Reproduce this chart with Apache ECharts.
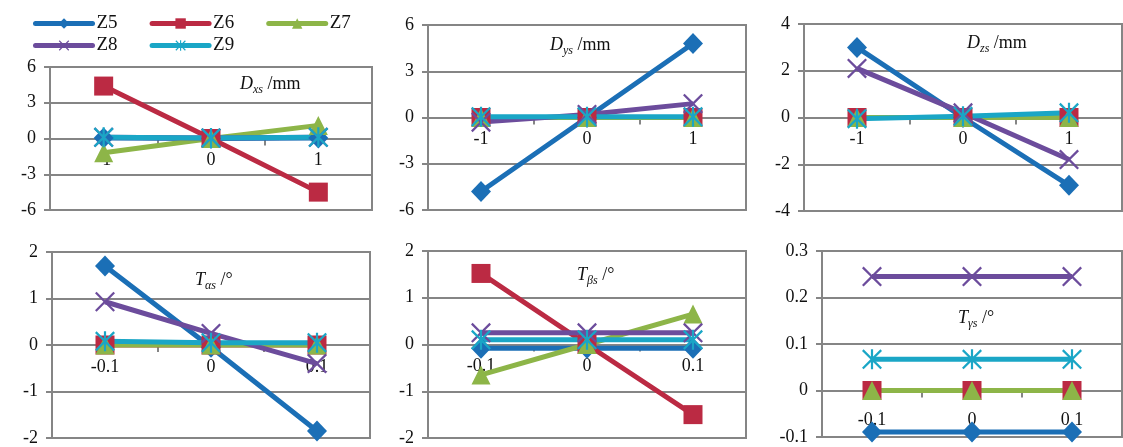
<!DOCTYPE html>
<html>
<head>
<meta charset="utf-8">
<script src="https://cdn.jsdelivr.net/npm/echarts@6/dist/echarts.min.js"></script>
<style>
html,body{margin:0;padding:0;background:#fff;}
#c{width:1123px;height:447px;}
</style>
</head>
<body>
<div id="c"></div>
<script>
// ---------- data ----------
const seriesNames = ['Z5', 'Z6', 'Z7', 'Z8', 'Z9'];
const catsD = ['-1', '0', '1'];
const catsT = ['-0.1', '0', '0.1'];
// each panel: values for Z5, Z6, Z7, Z8, Z9
const dxs = [[0.05, 0, 0.05], [4.4, 0, -4.5], [-1.2, 0, 1.1], [0.1, 0.05, 0.1], [0.1, 0.05, 0.1]];
const dys = [[-4.8, 0, 4.8], [0, 0, 0], [0, 0, 0], [-0.3, 0.2, 0.9], [0.05, 0.05, 0.05]];
const dzs = [[3.0, 0, -2.9], [0, 0, 0], [0, 0, 0], [2.1, 0.2, -1.8], [-0.05, 0.05, 0.2]];
const tas = [[1.7, -0.05, -1.85], [0, 0, 0], [0, 0, 0], [0.93, 0.25, -0.4], [0.08, 0.05, 0.05]];
const tbs = [[-0.08, -0.08, -0.08], [1.52, 0, -1.5], [-0.65, 0, 0.65], [0.25, 0.25, 0.25], [0.1, 0.1, 0.1]];
const tgs = [[-0.089, -0.089, -0.089], [0, 0, 0], [0, 0, 0], [0.245, 0.245, 0.245], [0.067, 0.067, 0.067]];
const yMin = [-6, -6, -4, -2, -2, -0.1];
const yMax = [6, 6, 4, 2, 2, 0.3];
const yStep = [3, 3, 2, 1, 1, 0.1];

// ---------- styles ----------
const colors = ['#1b6fb6', '#bb2a43', '#8db548', '#6c4c9c', '#1aa6c6'];
const xShape = 'M0,1.6 L1.6,0 L10,8.4 L18.4,0 L20,1.6 L11.6,10 L20,18.4 L18.4,20 L10,11.6 L1.6,20 L0,18.4 L8.4,10 Z';
const xPath = 'path://' + xShape;
const starPath = 'path://' + xShape + ' M8.9,0 L11.1,0 L11.1,20 L8.9,20 Z';
const symbols = ['diamond', 'rect', 'triangle', xPath, starPath];
const symbolSizes = [[20, 21], 19, 19, 20, 20];
const panels = [dxs, dys, dzs, tas, tbs, tgs];
const grids = [
  {left: 50, top: 67, width: 322, height: 143},
  {left: 428, top: 25, width: 318, height: 185},
  {left: 804, top: 24, width: 318, height: 187},
  {left: 52, top: 252, width: 318, height: 186},
  {left: 428, top: 251, width: 318, height: 187},
  {left: 822, top: 251, width: 300, height: 186}
];
const gray = '#858585';
const font = 'Liberation Serif';

const titleRich = {
  m: {fontFamily: font, fontStyle: 'italic', fontWeight: 'normal', fontSize: 18, color: '#111', lineHeight: 22, verticalAlign: 'bottom', padding: [0, 0, 3, 0]},
  s: {fontFamily: font, fontStyle: 'italic', fontWeight: 'normal', fontSize: 12, color: '#111', lineHeight: 22, verticalAlign: 'bottom'},
  n: {fontFamily: font, fontWeight: 'normal', fontSize: 18, color: '#111', lineHeight: 22, verticalAlign: 'bottom', padding: [0, 0, 3, 0]}
};
const titles = [
  {text: '{m|D}{s|xs}{n| /mm}', left: 240, top: 74},
  {text: '{m|D}{s|ys}{n| /mm}', left: 550, top: 35},
  {text: '{m|D}{s|zs}{n| /mm}', left: 967, top: 33},
  {text: '{m|T}{s|αs}{n| /°}', left: 195, top: 270},
  {text: '{m|T}{s|βs}{n| /°}', left: 577, top: 265},
  {text: '{m|T}{s|γs}{n| /°}', left: 958, top: 308}
];

const option = {
  animation: false,
  backgroundColor: '#fff',
  color: colors,
  title: titles.map(t => ({text: t.text, left: t.left, top: t.top, padding: 0, textStyle: {fontWeight: 'normal', rich: titleRich}})),
  legend: [
    {data: ['Z5', 'Z6', 'Z7'], left: 33, top: 14},
    {data: ['Z8', 'Z9'], left: 33, top: 36}
  ].map(l => Object.assign(l, {
    orient: 'horizontal', itemGap: 32, itemWidth: 57, itemHeight: 13, padding: 0,
    textStyle: {fontFamily: font, fontSize: 19, color: '#111', padding: [0, 0, 0, -1]},
    lineStyle: {width: 5, cap: 'round'}
  })),
  grid: grids.map(g => Object.assign({show: true, borderColor: gray, borderWidth: 2, backgroundColor: '#fff', containLabel: false}, g)),
  xAxis: grids.map((g, i) => ({
    type: 'category', gridIndex: i, data: i < 3 ? catsD : catsT, boundaryGap: true,
    position: 'bottom',
    // place the category axis where the value axis passes through zero
    offset: -g.height * (0 - yMin[i]) / (yMax[i] - yMin[i]),
    axisLine: {onZero: false, lineStyle: {color: gray, width: 2}},
    axisTick: {show: true, inside: false, length: 7, lineStyle: {color: gray, width: 2}},
    axisLabel: {fontFamily: font, fontSize: 18, color: '#111', margin: i === 5 ? 21 : 13},
    splitLine: {show: false}
  })),
  yAxis: grids.map((g, i) => ({
    type: 'value', gridIndex: i, min: yMin[i], max: yMax[i], interval: yStep[i],
    axisLine: {show: true, onZero: false, lineStyle: {color: gray, width: 2}},
    axisTick: {show: true, inside: false, length: 6, lineStyle: {color: gray, width: 2}},
    axisLabel: {fontFamily: font, fontSize: 18, color: '#111', margin: 14,
      formatter: v => String(Math.round(v * 10) / 10)},
    splitLine: {show: true, lineStyle: {color: gray, width: 2}}
  })),
  series: []
};

panels.forEach((panel, p) => {
  panel.forEach((vals, k) => {
    option.series.push({
      type: 'line', name: seriesNames[k], xAxisIndex: p, yAxisIndex: p,
      data: vals, symbol: symbols[k], symbolSize: symbolSizes[k], showSymbol: true,
      lineStyle: {width: 5, color: colors[k]},
      itemStyle: {color: colors[k]},
      emphasis: {disabled: true}
    });
  });
});

const chart = echarts.init(document.getElementById('c'), null, {renderer: 'canvas'});
chart.setOption(option);
</script>
</body>
</html>
